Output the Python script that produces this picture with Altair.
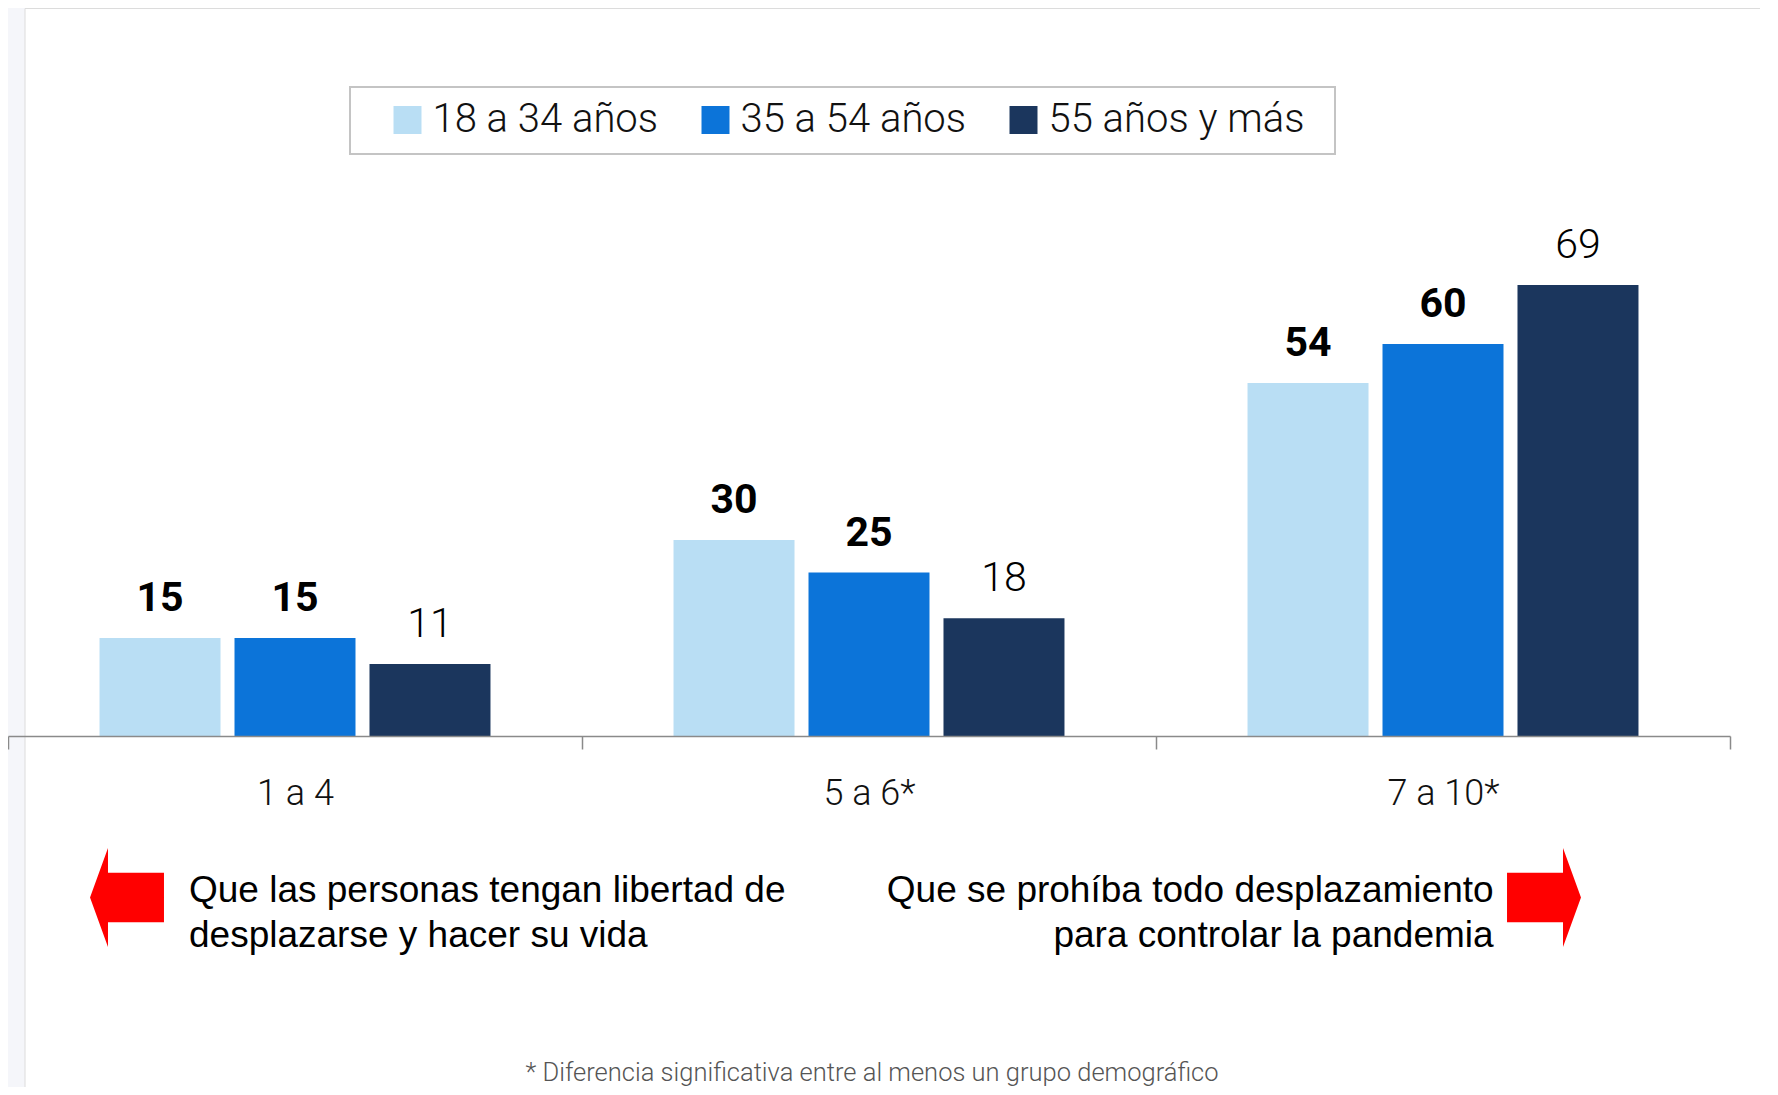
import altair as alt
import pandas as pd

categories = ["1 a 4", "5 a 6*", "7 a 10*"]
series = ["18 a 34 años", "35 a 54 años", "55 años y más"]
values_18_34 = [15, 30, 54]
values_35_54 = [15, 25, 60]
values_55_mas = [11, 18, 69]
colors = ["#b9def4", "#0c74d9", "#1b365d"]
bold_series = ["18 a 34 años", "35 a 54 años"]
left_text = ["Que las personas tengan libertad de", "desplazarse y hacer su vida"]
right_text = ["Que se prohíba todo desplazamiento", "para controlar la pandemia"]
footnote = "* Diferencia significativa entre al menos un grupo demográfico"

rows = []
for s, vals in zip(series, [values_18_34, values_35_54, values_55_mas]):
    for c, v in zip(categories, vals):
        rows.append({"cat": c, "series": s, "value": v})
df = pd.DataFrame(rows)
one = pd.DataFrame({"k": [0]})

W, H = 1722, 728
FONT = "Roboto"

x = alt.X(
    "cat:N", sort=categories, title=None,
    scale=alt.Scale(paddingInner=0, paddingOuter=0),
    axis=alt.Axis(
        labelAngle=0, domainColor="#8a8a8a", domainWidth=1.5, tickColor="#8a8a8a",
        tickWidth=1.5, tickSize=13, tickBand="extent", labelFont=FONT,
        labelFontSize=36, labelFontWeight=300, labelColor="#111111",
        labelPadding=44, labelBaseline="middle", grid=False, zindex=1,
    ),
)
xo = alt.XOffset("series:N", sort=series,
                 scale=alt.Scale(paddingInner=0.1037, paddingOuter=0.678))
y = alt.Y("value:Q", axis=None, scale=alt.Scale(domain=[0, 111.4], nice=False, zero=True))

panel = alt.Chart(one).mark_rect(fill="white", stroke="#dcdcdc", strokeWidth=1).encode(
    x=alt.value(17), x2=alt.value(1800), y=alt.value(0.5), y2=alt.value(1200)
)

legend_box = alt.Chart(one).mark_rect(fill="white", stroke="#c4c4c4", strokeWidth=2).encode(
    x=alt.value(342), x2=alt.value(1327), y=alt.value(79), y2=alt.value(146)
)

bars = alt.Chart(df).mark_bar().encode(
    x=x, xOffset=xo, y=y,
    color=alt.Color(
        "series:N", sort=series,
        scale=alt.Scale(domain=series, range=colors),
        legend=alt.Legend(
            title=None, orient="none", legendX=379.5, legendY=92, direction="horizontal",
            symbolType="square", symbolSize=784, symbolStrokeWidth=0,
            labelFont=FONT, labelFontSize=40, labelFontWeight=300, labelColor="#111111",
            labelOffset=5, columnPadding=37, padding=0, labelLimit=500, zindex=1,
        ),
    ),
)

labels_bold = alt.Chart(df).transform_filter(
    alt.FieldOneOfPredicate(field="series", oneOf=bold_series)
).mark_text(font=FONT, fontSize=41, fontWeight=700, dy=-27, baseline="alphabetic", color="#000000").encode(
    x=x, xOffset=xo, y=y, text="value:Q"
)
labels_reg = alt.Chart(df).transform_filter(
    ~alt.FieldOneOfPredicate(field="series", oneOf=bold_series)
).mark_text(font=FONT, fontSize=41, fontWeight=300, dy=-27, baseline="alphabetic", color="#000000").encode(
    x=x, xOffset=xo, y=y, text="value:Q"
)

left_arrow = alt.Chart(one).mark_point(
    shape="M -0.747 0 L -0.384 -1 L -0.384 -0.5 L 0.747 -0.5 L 0.747 0.5 L -0.384 0.5 L -0.384 1 Z",
    filled=True, fill="#ff0000", opacity=1, strokeWidth=0, size=9801,
).encode(x=alt.value(119), y=alt.value(889.5))
right_arrow = alt.Chart(one).mark_point(
    shape="M 0.747 0 L 0.384 -1 L 0.384 -0.5 L -0.747 -0.5 L -0.747 0.5 L 0.384 0.5 L 0.384 1 Z",
    filled=True, fill="#ff0000", opacity=1, strokeWidth=0, size=9801,
).encode(x=alt.value(1536), y=alt.value(889.5))

left_note = alt.Chart(one).mark_text(
    text=left_text, font="Liberation Sans", fontSize=37, lineHeight=45,
    align="left", baseline="alphabetic", color="#000000",
).encode(x=alt.value(181), y=alt.value(894))
right_note = alt.Chart(one).mark_text(
    text=right_text, font="Liberation Sans", fontSize=37, lineHeight=45,
    align="right", baseline="alphabetic", color="#000000",
).encode(x=alt.value(1485.6), y=alt.value(894))

foot = alt.Chart(one).mark_text(
    text=footnote, font=FONT, fontSize=25.5, fontWeight=300, align="center",
    baseline="alphabetic", color="#555555",
).encode(x=alt.value(864), y=alt.value(1073))

chart = alt.layer(
    panel, legend_box, bars, labels_bold, labels_reg,
    left_arrow, right_arrow, left_note, right_note, foot,
).properties(
    width=W, height=H,
    autosize=alt.AutoSizeParams(type="none"),
    padding={"left": 0, "top": 0, "right": 30, "bottom": 351},
).configure(background="#f5f6fa").configure_view(stroke=None)

chart.save("out.html", embed_options={"renderer": "svg", "actions": False})
